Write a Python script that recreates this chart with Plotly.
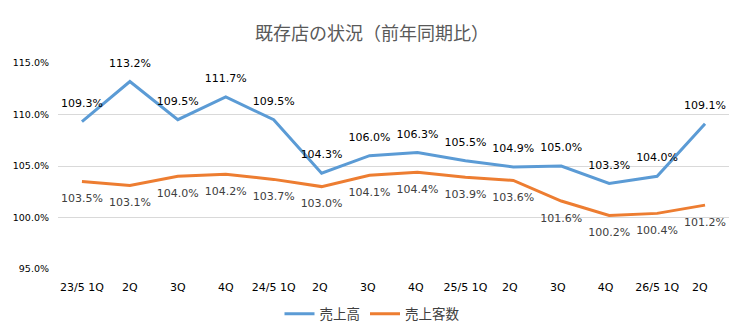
import plotly.graph_objects as go

categories = ["23/5 1Q", "2Q", "3Q", "4Q", "24/5 1Q", "2Q ", "3Q ", "4Q ", "25/5 1Q", "2Q  ", "3Q  ", "4Q  ", "26/5 1Q", "2Q   "]
sales = [109.3, 113.2, 109.5, 111.7, 109.5, 104.3, 106.0, 106.3, 105.5, 104.9, 105.0, 103.3, 104.0, 109.1]
customers = [103.5, 103.1, 104.0, 104.2, 103.7, 103.0, 104.1, 104.4, 103.9, 103.6, 101.6, 100.2, 100.4, 101.2]

CJK = "Noto Sans CJK JP"
NUM = "DejaVu Sans"

fig = go.Figure()
fig.add_trace(go.Scatter(
    x=categories, y=sales, name="売上高", mode="lines+markers+text",
    line=dict(color="#5B9BD5", width=3),
    marker=dict(size=18, color="rgba(0,0,0,0)"),
    text=[f"{v:.1f}%" for v in sales], textposition="top center",
    textfont=dict(family=NUM, size=11, color="#000000"),
    cliponaxis=False,
))
fig.add_trace(go.Scatter(
    x=categories, y=customers, name="売上客数", mode="lines+markers+text",
    line=dict(color="#ED7D31", width=3),
    marker=dict(size=18, color="rgba(0,0,0,0)"),
    text=[f"{v:.1f}%" for v in customers], textposition="bottom center",
    textfont=dict(family=NUM, size=11, color="#404040"),
    cliponaxis=False,
))

fig.update_layout(
    width=744, height=334,
    margin=dict(l=58, r=15, t=63, b=65, autoexpand=False),
    paper_bgcolor="white", plot_bgcolor="white",
    font=dict(family=CJK, color="#000000"),
    title=dict(text="既存店の状況（前年同期比）", x=0.5, xanchor="center", y=0.9, yanchor="middle",
               font=dict(family=CJK, size=18, color="#595959")),
    xaxis=dict(type="category", range=[-0.5, 13.5], showgrid=False, showline=False, ticks="",
               ticklabelstandoff=10, automargin=False,
               tickfont=dict(family=NUM, size=11, color="#000000")),
    yaxis=dict(range=[95, 115], dtick=5, tickformat=".1f", ticksuffix="%", showgrid=True,
               gridcolor="#D9D9D9", gridwidth=1, zeroline=False, showline=False,
               ticklabelstandoff=8, automargin=False,
               tickfont=dict(family=NUM, size=9.5, color="#000000")),
    legend=dict(orientation="h", x=0.5, xanchor="center", xref="container",
                y=0.06, yanchor="middle", yref="container",
                font=dict(family=CJK, size=13.5, color="#404040")),
    showlegend=True,
)

fig.write_html("out.html")
